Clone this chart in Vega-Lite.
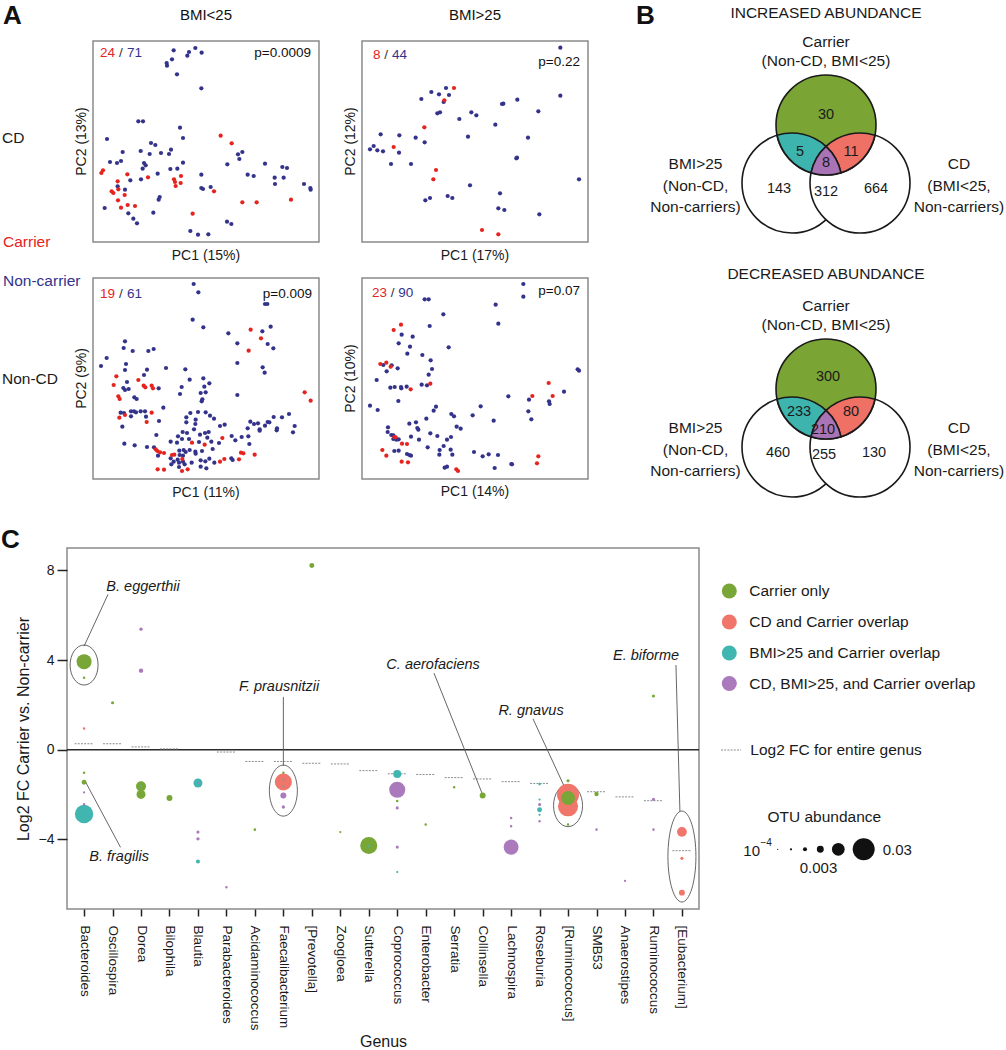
{
"$schema": "https://vega.github.io/schema/vega-lite/v6.json",
"padding": {"left": 0, "top": 3, "right": 0, "bottom": 0},
"bounds": "flush",
"spacing": 69,
"resolve": {"scale": {"color": "independent", "size": "independent", "shape": "independent"}},
"config": {
  "font": "Liberation Sans",
  "view": {"stroke": "#8a8a8a", "strokeWidth": 1.5},
  "axis": {"grid": false, "domain": false, "titleFontWeight": "normal", "labelColor": "#1a1a1a", "titleColor": "#1a1a1a"},
  "text": {"color": "#1a1a1a"}
},
"datasets": {
"tl": [
{"pc1":51.7,"pc2":-15.0,"group":"Non-carrier"},{"pc1":56.3,"pc2":-15.5,"group":"Non-carrier"},{"pc1":58.2,"pc2":-14.3,"group":"Non-carrier"},{"pc1":60.1,"pc2":-15.7,"group":"Non-carrier"},{"pc1":55.8,"pc2":-16.6,"group":"Non-carrier"},{"pc1":51.2,"pc2":-17.7,"group":"Non-carrier"},{"pc1":49.6,"pc2":-18.8,"group":"Non-carrier"},{"pc1":49.7,"pc2":-19.6,"group":"Non-carrier"},{"pc1":52.7,"pc2":-22.2,"group":"Non-carrier"},{"pc1":60.0,"pc2":-26.4,"group":"Non-carrier"},{"pc1":41.1,"pc2":-36.3,"group":"Non-carrier"},{"pc1":42.5,"pc2":-36.3,"group":"Non-carrier"},{"pc1":53.6,"pc2":-38.2,"group":"Non-carrier"},{"pc1":54.5,"pc2":-41.3,"group":"Non-carrier"},{"pc1":31.7,"pc2":-41.6,"group":"Non-carrier"},{"pc1":44.9,"pc2":-42.8,"group":"Non-carrier"},{"pc1":46.2,"pc2":-43.4,"group":"Non-carrier"},{"pc1":36.4,"pc2":-45.5,"group":"Non-carrier"},{"pc1":41.8,"pc2":-45.2,"group":"Non-carrier"},{"pc1":44.5,"pc2":-46.1,"group":"Non-carrier"},{"pc1":47.9,"pc2":-45.8,"group":"Non-carrier"},{"pc1":50.9,"pc2":-44.8,"group":"Non-carrier"},{"pc1":50.3,"pc2":-46.1,"group":"Non-carrier"},{"pc1":72.3,"pc2":-45.5,"group":"Non-carrier"},{"pc1":71.0,"pc2":-46.2,"group":"Non-carrier"},{"pc1":71.4,"pc2":-47.6,"group":"Non-carrier"},{"pc1":32.6,"pc2":-48.5,"group":"Non-carrier"},{"pc1":34.7,"pc2":-48.8,"group":"Non-carrier"},{"pc1":35.9,"pc2":-48.2,"group":"Non-carrier"},{"pc1":42.8,"pc2":-48.8,"group":"Non-carrier"},{"pc1":43.3,"pc2":-49.5,"group":"Non-carrier"},{"pc1":54.5,"pc2":-48.7,"group":"Non-carrier"},{"pc1":67.8,"pc2":-49.2,"group":"Non-carrier"},{"pc1":79.1,"pc2":-49.0,"group":"Non-carrier"},{"pc1":84.3,"pc2":-50.0,"group":"Non-carrier"},{"pc1":85.7,"pc2":-50.3,"group":"Non-carrier"},{"pc1":42.4,"pc2":-50.5,"group":"Non-carrier"},{"pc1":46.9,"pc2":-52.0,"group":"Non-carrier"},{"pc1":50.7,"pc2":-50.6,"group":"Non-carrier"},{"pc1":52.8,"pc2":-50.5,"group":"Non-carrier"},{"pc1":73.9,"pc2":-52.3,"group":"Non-carrier"},{"pc1":75.7,"pc2":-52.7,"group":"Non-carrier"},{"pc1":38.7,"pc2":-54.0,"group":"Non-carrier"},{"pc1":41.9,"pc2":-53.7,"group":"Non-carrier"},{"pc1":60.0,"pc2":-52.3,"group":"Non-carrier"},{"pc1":34.9,"pc2":-55.8,"group":"Non-carrier"},{"pc1":82.0,"pc2":-53.2,"group":"Non-carrier"},{"pc1":84.7,"pc2":-53.2,"group":"Non-carrier"},{"pc1":82.1,"pc2":-55.1,"group":"Non-carrier"},{"pc1":60.0,"pc2":-56.3,"group":"Non-carrier"},{"pc1":60.5,"pc2":-56.6,"group":"Non-carrier"},{"pc1":62.8,"pc2":-56.0,"group":"Non-carrier"},{"pc1":90.8,"pc2":-55.1,"group":"Non-carrier"},{"pc1":92.7,"pc2":-56.3,"group":"Non-carrier"},{"pc1":92.8,"pc2":-56.8,"group":"Non-carrier"},{"pc1":37.1,"pc2":-56.8,"group":"Non-carrier"},{"pc1":47.5,"pc2":-59.0,"group":"Non-carrier"},{"pc1":47.2,"pc2":-59.8,"group":"Non-carrier"},{"pc1":31.0,"pc2":-62.3,"group":"Non-carrier"},{"pc1":45.6,"pc2":-63.7,"group":"Non-carrier"},{"pc1":38.1,"pc2":-63.9,"group":"Non-carrier"},{"pc1":39.6,"pc2":-65.5,"group":"Non-carrier"},{"pc1":40.7,"pc2":-66.9,"group":"Non-carrier"},{"pc1":67.7,"pc2":-66.4,"group":"Non-carrier"},{"pc1":69.0,"pc2":-67.1,"group":"Non-carrier"},{"pc1":56.7,"pc2":-69.2,"group":"Non-carrier"},{"pc1":59.0,"pc2":-70.3,"group":"Non-carrier"},{"pc1":62.1,"pc2":-70.2,"group":"Non-carrier"},
{"pc1":65.8,"pc2":-40.6,"group":"Carrier"},{"pc1":69.1,"pc2":-42.9,"group":"Carrier"},{"pc1":30.5,"pc2":-51.0,"group":"Carrier"},{"pc1":30.0,"pc2":-51.8,"group":"Carrier"},{"pc1":37.8,"pc2":-52.2,"group":"Carrier"},{"pc1":44.0,"pc2":-53.1,"group":"Carrier"},{"pc1":53.9,"pc2":-52.7,"group":"Carrier"},{"pc1":51.8,"pc2":-53.7,"group":"Carrier"},{"pc1":52.1,"pc2":-54.5,"group":"Carrier"},{"pc1":53.8,"pc2":-54.8,"group":"Carrier"},{"pc1":52.3,"pc2":-55.7,"group":"Carrier"},{"pc1":34.9,"pc2":-54.3,"group":"Carrier"},{"pc1":63.8,"pc2":-57.3,"group":"Carrier"},{"pc1":33.1,"pc2":-57.3,"group":"Carrier"},{"pc1":33.6,"pc2":-57.8,"group":"Carrier"},{"pc1":35.1,"pc2":-56.7,"group":"Carrier"},{"pc1":37.0,"pc2":-58.4,"group":"Carrier"},{"pc1":35.0,"pc2":-60.0,"group":"Carrier"},{"pc1":72.3,"pc2":-60.6,"group":"Carrier"},{"pc1":76.6,"pc2":-60.6,"group":"Carrier"},{"pc1":86.9,"pc2":-59.8,"group":"Carrier"},{"pc1":37.9,"pc2":-61.4,"group":"Carrier"},{"pc1":40.1,"pc2":-61.7,"group":"Carrier"},{"pc1":35.9,"pc2":-62.2,"group":"Carrier"},{"pc1":57.4,"pc2":-64.0,"group":"Carrier"}
],
"tr": [
{"pc1":68.8,"pc2":-14.2,"group":"Non-carrier"},{"pc1":68.8,"pc2":-28.6,"group":"Non-carrier"},{"pc1":34.5,"pc2":-26.3,"group":"Non-carrier"},{"pc1":30.1,"pc2":-27.5,"group":"Non-carrier"},{"pc1":32.4,"pc2":-28.2,"group":"Non-carrier"},{"pc1":35.4,"pc2":-28.4,"group":"Non-carrier"},{"pc1":33.8,"pc2":-30.5,"group":"Non-carrier"},{"pc1":27.1,"pc2":-29.6,"group":"Non-carrier"},{"pc1":31.9,"pc2":-33.9,"group":"Non-carrier"},{"pc1":32.7,"pc2":-33.6,"group":"Non-carrier"},{"pc1":38.5,"pc2":-35.6,"group":"Non-carrier"},{"pc1":42.1,"pc2":-33.6,"group":"Non-carrier"},{"pc1":43.6,"pc2":-34.5,"group":"Non-carrier"},{"pc1":51.3,"pc2":-31.1,"group":"Non-carrier"},{"pc1":51.7,"pc2":-31.0,"group":"Non-carrier"},{"pc1":55.9,"pc2":-29.8,"group":"Non-carrier"},{"pc1":62.2,"pc2":-33.3,"group":"Non-carrier"},{"pc1":49.3,"pc2":-37.3,"group":"Non-carrier"},{"pc1":14.9,"pc2":-40.2,"group":"Non-carrier"},{"pc1":20.5,"pc2":-40.5,"group":"Non-carrier"},{"pc1":25.4,"pc2":-41.2,"group":"Non-carrier"},{"pc1":41.1,"pc2":-40.9,"group":"Non-carrier"},{"pc1":59.1,"pc2":-41.2,"group":"Non-carrier"},{"pc1":28.1,"pc2":-42.6,"group":"Non-carrier"},{"pc1":12.8,"pc2":-43.7,"group":"Non-carrier"},{"pc1":11.7,"pc2":-44.7,"group":"Non-carrier"},{"pc1":13.9,"pc2":-45.0,"group":"Non-carrier"},{"pc1":15.6,"pc2":-45.3,"group":"Non-carrier"},{"pc1":20.4,"pc2":-45.7,"group":"Non-carrier"},{"pc1":55.8,"pc2":-47.2,"group":"Non-carrier"},{"pc1":55.6,"pc2":-47.4,"group":"Non-carrier"},{"pc1":18.0,"pc2":-49.1,"group":"Non-carrier"},{"pc1":24.0,"pc2":-49.1,"group":"Non-carrier"},{"pc1":74.4,"pc2":-53.7,"group":"Non-carrier"},{"pc1":41.7,"pc2":-55.5,"group":"Non-carrier"},{"pc1":50.7,"pc2":-57.9,"group":"Non-carrier"},{"pc1":35.0,"pc2":-58.7,"group":"Non-carrier"},{"pc1":36.4,"pc2":-59.3,"group":"Non-carrier"},{"pc1":28.3,"pc2":-60.0,"group":"Non-carrier"},{"pc1":29.7,"pc2":-59.3,"group":"Non-carrier"},{"pc1":50.2,"pc2":-62.4,"group":"Non-carrier"},{"pc1":52.0,"pc2":-62.9,"group":"Non-carrier"},{"pc1":62.5,"pc2":-64.2,"group":"Non-carrier"},
{"pc1":36.9,"pc2":-26.3,"group":"Carrier"},{"pc1":34.0,"pc2":-30.0,"group":"Carrier"},{"pc1":28.0,"pc2":-38.1,"group":"Carrier"},{"pc1":18.8,"pc2":-44.0,"group":"Carrier"},{"pc1":31.5,"pc2":-50.9,"group":"Carrier"},{"pc1":30.7,"pc2":-53.7,"group":"Carrier"},{"pc1":45.3,"pc2":-68.9,"group":"Carrier"},{"pc1":50.2,"pc2":-70.2,"group":"Carrier"}
],
"bl": [
{"pc1":57.7,"pc2":1.5,"group":"Non-carrier"},{"pc1":59.1,"pc2":-1.0,"group":"Non-carrier"},{"pc1":79.1,"pc2":-4.5,"group":"Non-carrier"},{"pc1":79.8,"pc2":-4.5,"group":"Non-carrier"},{"pc1":57.4,"pc2":-9.2,"group":"Non-carrier"},{"pc1":60.6,"pc2":-11.5,"group":"Non-carrier"},{"pc1":78.3,"pc2":-12.7,"group":"Non-carrier"},{"pc1":80.8,"pc2":-11.3,"group":"Non-carrier"},{"pc1":68.1,"pc2":-13.3,"group":"Non-carrier"},{"pc1":70.8,"pc2":-16.3,"group":"Non-carrier"},{"pc1":79.9,"pc2":-16.5,"group":"Non-carrier"},{"pc1":81.6,"pc2":-17.8,"group":"Non-carrier"},{"pc1":37.1,"pc2":-15.7,"group":"Non-carrier"},{"pc1":36.7,"pc2":-17.7,"group":"Non-carrier"},{"pc1":39.4,"pc2":-18.6,"group":"Non-carrier"},{"pc1":44.1,"pc2":-18.6,"group":"Non-carrier"},{"pc1":45.7,"pc2":-18.0,"group":"Non-carrier"},{"pc1":31.6,"pc2":-20.7,"group":"Non-carrier"},{"pc1":29.9,"pc2":-23.1,"group":"Non-carrier"},{"pc1":37.4,"pc2":-22.5,"group":"Non-carrier"},{"pc1":37.1,"pc2":-24.3,"group":"Non-carrier"},{"pc1":43.7,"pc2":-24.2,"group":"Non-carrier"},{"pc1":49.4,"pc2":-23.7,"group":"Non-carrier"},{"pc1":55.2,"pc2":-24.1,"group":"Non-carrier"},{"pc1":70.8,"pc2":-22.2,"group":"Non-carrier"},{"pc1":78.4,"pc2":-23.5,"group":"Non-carrier"},{"pc1":79.0,"pc2":-25.1,"group":"Non-carrier"},{"pc1":37.7,"pc2":-27.9,"group":"Non-carrier"},{"pc1":42.8,"pc2":-25.8,"group":"Non-carrier"},{"pc1":36.6,"pc2":-29.7,"group":"Non-carrier"},{"pc1":37.1,"pc2":-30.3,"group":"Non-carrier"},{"pc1":38.2,"pc2":-30.0,"group":"Non-carrier"},{"pc1":47.2,"pc2":-29.8,"group":"Non-carrier"},{"pc1":56.5,"pc2":-27.2,"group":"Non-carrier"},{"pc1":60.6,"pc2":-26.8,"group":"Non-carrier"},{"pc1":62.4,"pc2":-28.3,"group":"Non-carrier"},{"pc1":54.1,"pc2":-29.4,"group":"Non-carrier"},{"pc1":60.9,"pc2":-29.3,"group":"Non-carrier"},{"pc1":39.9,"pc2":-32.5,"group":"Non-carrier"},{"pc1":40.6,"pc2":-33.0,"group":"Non-carrier"},{"pc1":53.6,"pc2":-31.5,"group":"Non-carrier"},{"pc1":59.8,"pc2":-31.2,"group":"Non-carrier"},{"pc1":61.3,"pc2":-31.0,"group":"Non-carrier"},{"pc1":70.8,"pc2":-31.8,"group":"Non-carrier"},{"pc1":60.1,"pc2":-33.7,"group":"Non-carrier"},{"pc1":60.3,"pc2":-33.1,"group":"Non-carrier"},{"pc1":48.6,"pc2":-35.6,"group":"Non-carrier"},{"pc1":35.8,"pc2":-37.1,"group":"Non-carrier"},{"pc1":36.8,"pc2":-37.2,"group":"Non-carrier"},{"pc1":38.9,"pc2":-36.7,"group":"Non-carrier"},{"pc1":39.8,"pc2":-36.7,"group":"Non-carrier"},{"pc1":40.4,"pc2":-37.0,"group":"Non-carrier"},{"pc1":41.8,"pc2":-36.7,"group":"Non-carrier"},{"pc1":43.1,"pc2":-36.7,"group":"Non-carrier"},{"pc1":38.9,"pc2":-38.2,"group":"Non-carrier"},{"pc1":43.4,"pc2":-38.3,"group":"Non-carrier"},{"pc1":59.0,"pc2":-36.9,"group":"Non-carrier"},{"pc1":61.3,"pc2":-37.0,"group":"Non-carrier"},{"pc1":56.7,"pc2":-37.2,"group":"Non-carrier"},{"pc1":62.6,"pc2":-38.0,"group":"Non-carrier"},{"pc1":63.8,"pc2":-38.9,"group":"Non-carrier"},{"pc1":55.5,"pc2":-38.5,"group":"Non-carrier"},{"pc1":58.3,"pc2":-39.2,"group":"Non-carrier"},{"pc1":58.2,"pc2":-40.5,"group":"Non-carrier"},{"pc1":55.5,"pc2":-40.0,"group":"Non-carrier"},{"pc1":47.3,"pc2":-39.6,"group":"Non-carrier"},{"pc1":36.3,"pc2":-41.3,"group":"Non-carrier"},{"pc1":74.7,"pc2":-39.8,"group":"Non-carrier"},{"pc1":75.8,"pc2":-40.5,"group":"Non-carrier"},{"pc1":77.0,"pc2":-40.3,"group":"Non-carrier"},{"pc1":79.1,"pc2":-41.0,"group":"Non-carrier"},{"pc1":79.9,"pc2":-39.9,"group":"Non-carrier"},{"pc1":80.4,"pc2":-40.0,"group":"Non-carrier"},{"pc1":81.7,"pc2":-38.4,"group":"Non-carrier"},{"pc1":84.2,"pc2":-38.5,"group":"Non-carrier"},{"pc1":86.3,"pc2":-37.5,"group":"Non-carrier"},{"pc1":88.0,"pc2":-41.1,"group":"Non-carrier"},{"pc1":87.5,"pc2":-43.0,"group":"Non-carrier"},{"pc1":82.7,"pc2":-41.8,"group":"Non-carrier"},{"pc1":82.6,"pc2":-42.4,"group":"Non-carrier"},{"pc1":77.5,"pc2":-42.1,"group":"Non-carrier"},{"pc1":77.5,"pc2":-42.5,"group":"Non-carrier"},{"pc1":73.9,"pc2":-41.8,"group":"Non-carrier"},{"pc1":65.6,"pc2":-41.1,"group":"Non-carrier"},{"pc1":67.0,"pc2":-40.7,"group":"Non-carrier"},{"pc1":46.5,"pc2":-43.8,"group":"Non-carrier"},{"pc1":54.4,"pc2":-42.9,"group":"Non-carrier"},{"pc1":55.7,"pc2":-43.2,"group":"Non-carrier"},{"pc1":53.0,"pc2":-44.2,"group":"Non-carrier"},{"pc1":54.2,"pc2":-45.0,"group":"Non-carrier"},{"pc1":56.3,"pc2":-45.0,"group":"Non-carrier"},{"pc1":59.6,"pc2":-43.7,"group":"Non-carrier"},{"pc1":61.1,"pc2":-43.2,"group":"Non-carrier"},{"pc1":62.2,"pc2":-42.9,"group":"Non-carrier"},{"pc1":61.8,"pc2":-44.6,"group":"Non-carrier"},{"pc1":57.8,"pc2":-42.1,"group":"Non-carrier"},{"pc1":69.1,"pc2":-44.1,"group":"Non-carrier"},{"pc1":70.2,"pc2":-45.4,"group":"Non-carrier"},{"pc1":52.7,"pc2":-46.1,"group":"Non-carrier"},{"pc1":50.8,"pc2":-45.8,"group":"Non-carrier"},{"pc1":59.3,"pc2":-45.9,"group":"Non-carrier"},{"pc1":63.0,"pc2":-45.8,"group":"Non-carrier"},{"pc1":65.3,"pc2":-46.2,"group":"Non-carrier"},{"pc1":74.4,"pc2":-46.5,"group":"Non-carrier"},{"pc1":74.1,"pc2":-44.2,"group":"Non-carrier"},{"pc1":72.1,"pc2":-44.4,"group":"Non-carrier"},{"pc1":36.9,"pc2":-46.4,"group":"Non-carrier"},{"pc1":40.0,"pc2":-46.9,"group":"Non-carrier"},{"pc1":43.7,"pc2":-47.4,"group":"Non-carrier"},{"pc1":45.8,"pc2":-47.5,"group":"Non-carrier"},{"pc1":47.0,"pc2":-50.0,"group":"Non-carrier"},{"pc1":53.5,"pc2":-49.8,"group":"Non-carrier"},{"pc1":54.5,"pc2":-50.0,"group":"Non-carrier"},{"pc1":53.4,"pc2":-48.5,"group":"Non-carrier"},{"pc1":54.7,"pc2":-48.3,"group":"Non-carrier"},{"pc1":55.3,"pc2":-48.9,"group":"Non-carrier"},{"pc1":56.5,"pc2":-48.3,"group":"Non-carrier"},{"pc1":58.2,"pc2":-48.8,"group":"Non-carrier"},{"pc1":58.3,"pc2":-49.4,"group":"Non-carrier"},{"pc1":60.2,"pc2":-48.6,"group":"Non-carrier"},{"pc1":63.4,"pc2":-48.0,"group":"Non-carrier"},{"pc1":50.8,"pc2":-50.8,"group":"Non-carrier"},{"pc1":51.7,"pc2":-51.8,"group":"Non-carrier"},{"pc1":52.9,"pc2":-51.2,"group":"Non-carrier"},{"pc1":53.3,"pc2":-52.1,"group":"Non-carrier"},{"pc1":54.5,"pc2":-51.8,"group":"Non-carrier"},{"pc1":55.0,"pc2":-52.6,"group":"Non-carrier"},{"pc1":57.1,"pc2":-52.1,"group":"Non-carrier"},{"pc1":59.8,"pc2":-51.4,"group":"Non-carrier"},{"pc1":61.2,"pc2":-51.7,"group":"Non-carrier"},{"pc1":62.4,"pc2":-50.9,"group":"Non-carrier"},{"pc1":63.9,"pc2":-52.1,"group":"Non-carrier"},{"pc1":69.0,"pc2":-50.8,"group":"Non-carrier"},{"pc1":69.4,"pc2":-51.3,"group":"Non-carrier"},{"pc1":51.0,"pc2":-52.6,"group":"Non-carrier"},{"pc1":53.3,"pc2":-53.4,"group":"Non-carrier"},{"pc1":59.8,"pc2":-53.3,"group":"Non-carrier"},{"pc1":61.5,"pc2":-53.8,"group":"Non-carrier"},
{"pc1":74.8,"pc2":-12.2,"group":"Carrier"},{"pc1":77.9,"pc2":-14.8,"group":"Carrier"},{"pc1":74.2,"pc2":-18.5,"group":"Carrier"},{"pc1":34.5,"pc2":-26.2,"group":"Carrier"},{"pc1":41.1,"pc2":-27.3,"group":"Carrier"},{"pc1":33.7,"pc2":-28.8,"group":"Carrier"},{"pc1":42.7,"pc2":-29.0,"group":"Carrier"},{"pc1":43.2,"pc2":-29.5,"group":"Carrier"},{"pc1":45.1,"pc2":-29.0,"group":"Carrier"},{"pc1":45.5,"pc2":-29.8,"group":"Carrier"},{"pc1":35.1,"pc2":-32.2,"group":"Carrier"},{"pc1":35.5,"pc2":-33.0,"group":"Carrier"},{"pc1":91.0,"pc2":-31.0,"group":"Carrier"},{"pc1":92.8,"pc2":-33.5,"group":"Carrier"},{"pc1":45.1,"pc2":-37.1,"group":"Carrier"},{"pc1":35.4,"pc2":-38.6,"group":"Carrier"},{"pc1":37.1,"pc2":-37.8,"group":"Carrier"},{"pc1":43.6,"pc2":-39.9,"group":"Carrier"},{"pc1":66.3,"pc2":-44.7,"group":"Carrier"},{"pc1":57.2,"pc2":-46.1,"group":"Carrier"},{"pc1":61.0,"pc2":-46.7,"group":"Carrier"},{"pc1":46.3,"pc2":-48.1,"group":"Carrier"},{"pc1":46.8,"pc2":-48.6,"group":"Carrier"},{"pc1":47.6,"pc2":-49.0,"group":"Carrier"},{"pc1":48.8,"pc2":-49.2,"group":"Carrier"},{"pc1":51.2,"pc2":-49.8,"group":"Carrier"},{"pc1":51.9,"pc2":-49.7,"group":"Carrier"},{"pc1":71.9,"pc2":-49.1,"group":"Carrier"},{"pc1":72.6,"pc2":-49.3,"group":"Carrier"},{"pc1":76.0,"pc2":-49.7,"group":"Carrier"},{"pc1":54.3,"pc2":-51.0,"group":"Carrier"},{"pc1":65.6,"pc2":-51.8,"group":"Carrier"},{"pc1":66.9,"pc2":-51.0,"group":"Carrier"},{"pc1":71.3,"pc2":-51.1,"group":"Carrier"},{"pc1":46.9,"pc2":-54.1,"group":"Carrier"},{"pc1":48.8,"pc2":-54.2,"group":"Carrier"},{"pc1":54.2,"pc2":-54.6,"group":"Carrier"},{"pc1":55.9,"pc2":-54.1,"group":"Carrier"}
],
"br": [
{"pc1":57.7,"pc2":1.8,"group":"Non-carrier"},{"pc1":57.7,"pc2":-2.0,"group":"Non-carrier"},{"pc1":28.1,"pc2":-2.8,"group":"Non-carrier"},{"pc1":29.3,"pc2":-2.8,"group":"Non-carrier"},{"pc1":49.4,"pc2":-4.4,"group":"Non-carrier"},{"pc1":50.2,"pc2":-10.1,"group":"Non-carrier"},{"pc1":33.7,"pc2":-7.3,"group":"Non-carrier"},{"pc1":29.6,"pc2":-10.8,"group":"Non-carrier"},{"pc1":21.2,"pc2":-13.4,"group":"Non-carrier"},{"pc1":24.5,"pc2":-14.0,"group":"Non-carrier"},{"pc1":20.3,"pc2":-16.0,"group":"Non-carrier"},{"pc1":23.7,"pc2":-17.0,"group":"Non-carrier"},{"pc1":22.9,"pc2":-19.1,"group":"Non-carrier"},{"pc1":35.3,"pc2":-17.2,"group":"Non-carrier"},{"pc1":27.4,"pc2":-19.5,"group":"Non-carrier"},{"pc1":29.9,"pc2":-21.1,"group":"Non-carrier"},{"pc1":30.3,"pc2":-23.7,"group":"Non-carrier"},{"pc1":29.3,"pc2":-25.4,"group":"Non-carrier"},{"pc1":15.7,"pc2":-22.5,"group":"Non-carrier"},{"pc1":18.2,"pc2":-22.6,"group":"Non-carrier"},{"pc1":20.0,"pc2":-23.5,"group":"Non-carrier"},{"pc1":16.7,"pc2":-24.4,"group":"Non-carrier"},{"pc1":13.7,"pc2":-27.0,"group":"Non-carrier"},{"pc1":74.0,"pc2":-23.8,"group":"Non-carrier"},{"pc1":74.4,"pc2":-24.2,"group":"Non-carrier"},{"pc1":17.8,"pc2":-29.3,"group":"Non-carrier"},{"pc1":19.1,"pc2":-29.1,"group":"Non-carrier"},{"pc1":21.0,"pc2":-29.1,"group":"Non-carrier"},{"pc1":21.1,"pc2":-29.5,"group":"Non-carrier"},{"pc1":22.7,"pc2":-29.0,"group":"Non-carrier"},{"pc1":27.2,"pc2":-28.4,"group":"Non-carrier"},{"pc1":28.8,"pc2":-28.6,"group":"Non-carrier"},{"pc1":59.4,"pc2":-32.9,"group":"Non-carrier"},{"pc1":69.9,"pc2":-30.5,"group":"Non-carrier"},{"pc1":65.4,"pc2":-33.4,"group":"Non-carrier"},{"pc1":65.6,"pc2":-34.2,"group":"Non-carrier"},{"pc1":53.2,"pc2":-31.9,"group":"Non-carrier"},{"pc1":11.7,"pc2":-34.7,"group":"Non-carrier"},{"pc1":14.0,"pc2":-36.0,"group":"Non-carrier"},{"pc1":20.2,"pc2":-33.3,"group":"Non-carrier"},{"pc1":31.5,"pc2":-35.0,"group":"Non-carrier"},{"pc1":30.8,"pc2":-36.2,"group":"Non-carrier"},{"pc1":44.9,"pc2":-34.9,"group":"Non-carrier"},{"pc1":42.5,"pc2":-37.6,"group":"Non-carrier"},{"pc1":48.8,"pc2":-39.2,"group":"Non-carrier"},{"pc1":59.2,"pc2":-36.4,"group":"Non-carrier"},{"pc1":60.1,"pc2":-38.8,"group":"Non-carrier"},{"pc1":36.1,"pc2":-37.2,"group":"Non-carrier"},{"pc1":36.9,"pc2":-37.9,"group":"Non-carrier"},{"pc1":28.6,"pc2":-38.6,"group":"Non-carrier"},{"pc1":23.5,"pc2":-40.1,"group":"Non-carrier"},{"pc1":25.5,"pc2":-39.7,"group":"Non-carrier"},{"pc1":25.9,"pc2":-41.4,"group":"Non-carrier"},{"pc1":26.2,"pc2":-41.9,"group":"Non-carrier"},{"pc1":37.7,"pc2":-41.0,"group":"Non-carrier"},{"pc1":38.9,"pc2":-41.6,"group":"Non-carrier"},{"pc1":17.1,"pc2":-41.2,"group":"Non-carrier"},{"pc1":17.0,"pc2":-42.6,"group":"Non-carrier"},{"pc1":18.1,"pc2":-43.5,"group":"Non-carrier"},{"pc1":18.7,"pc2":-43.6,"group":"Non-carrier"},{"pc1":18.7,"pc2":-44.7,"group":"Non-carrier"},{"pc1":19.6,"pc2":-44.9,"group":"Non-carrier"},{"pc1":20.3,"pc2":-44.8,"group":"Non-carrier"},{"pc1":24.0,"pc2":-44.0,"group":"Non-carrier"},{"pc1":29.8,"pc2":-43.0,"group":"Non-carrier"},{"pc1":31.9,"pc2":-43.8,"group":"Non-carrier"},{"pc1":36.0,"pc2":-44.1,"group":"Non-carrier"},{"pc1":34.8,"pc2":-44.9,"group":"Non-carrier"},{"pc1":26.4,"pc2":-44.9,"group":"Non-carrier"},{"pc1":29.0,"pc2":-47.2,"group":"Non-carrier"},{"pc1":33.8,"pc2":-46.8,"group":"Non-carrier"},{"pc1":19.0,"pc2":-48.3,"group":"Non-carrier"},{"pc1":20.3,"pc2":-48.2,"group":"Non-carrier"},{"pc1":22.8,"pc2":-49.2,"group":"Non-carrier"},{"pc1":23.5,"pc2":-49.5,"group":"Non-carrier"},{"pc1":24.0,"pc2":-49.7,"group":"Non-carrier"},{"pc1":32.6,"pc2":-48.0,"group":"Non-carrier"},{"pc1":35.9,"pc2":-47.9,"group":"Non-carrier"},{"pc1":32.5,"pc2":-49.4,"group":"Non-carrier"},{"pc1":36.4,"pc2":-49.4,"group":"Non-carrier"},{"pc1":42.9,"pc2":-48.6,"group":"Non-carrier"},{"pc1":45.5,"pc2":-49.9,"group":"Non-carrier"},{"pc1":47.3,"pc2":-49.3,"group":"Non-carrier"},{"pc1":50.1,"pc2":-49.5,"group":"Non-carrier"},{"pc1":54.1,"pc2":-52.2,"group":"Non-carrier"},{"pc1":54.3,"pc2":-52.3,"group":"Non-carrier"},{"pc1":34.1,"pc2":-53.3,"group":"Non-carrier"},{"pc1":34.8,"pc2":-53.0,"group":"Non-carrier"},{"pc1":49.1,"pc2":-53.4,"group":"Non-carrier"},
{"pc1":21.0,"pc2":-10.4,"group":"Carrier"},{"pc1":18.8,"pc2":-12.0,"group":"Carrier"},{"pc1":14.8,"pc2":-22.2,"group":"Carrier"},{"pc1":16.6,"pc2":-21.8,"group":"Carrier"},{"pc1":17.9,"pc2":-23.0,"group":"Carrier"},{"pc1":23.9,"pc2":-29.8,"group":"Carrier"},{"pc1":29.8,"pc2":-28.1,"group":"Carrier"},{"pc1":65.3,"pc2":-27.9,"group":"Carrier"},{"pc1":60.4,"pc2":-31.8,"group":"Carrier"},{"pc1":66.5,"pc2":-31.8,"group":"Carrier"},{"pc1":19.0,"pc2":-44.1,"group":"Carrier"},{"pc1":19.4,"pc2":-44.2,"group":"Carrier"},{"pc1":21.3,"pc2":-46.1,"group":"Carrier"},{"pc1":22.8,"pc2":-46.2,"group":"Carrier"},{"pc1":15.4,"pc2":-48.0,"group":"Carrier"},{"pc1":16.6,"pc2":-49.7,"group":"Carrier"},{"pc1":62.2,"pc2":-49.9,"group":"Carrier"},{"pc1":61.8,"pc2":-52.0,"group":"Carrier"},{"pc1":21.2,"pc2":-51.5,"group":"Carrier"},{"pc1":23.1,"pc2":-51.7,"group":"Carrier"},{"pc1":37.6,"pc2":-53.8,"group":"Carrier"},{"pc1":38.1,"pc2":-54.3,"group":"Carrier"}
],
"vennSets": [
{"venn":"Increased abundance","set":"Carrier","vx":19.5,"vy":8.4},
{"venn":"Increased abundance","set":"BMI>25","vx":16.1,"vy":14.2},
{"venn":"Increased abundance","set":"CD","vx":22.9,"vy":14.2},
{"venn":"Decreased abundance","set":"Carrier","vx":19.5,"vy":34.8},
{"venn":"Decreased abundance","set":"BMI>25","vx":16.1,"vy":40.6},
{"venn":"Decreased abundance","set":"CD","vx":22.9,"vy":40.6}
],
"vennCounts": [
{"venn":"Increased abundance","region":"Carrier only","count":"30","vx":19.5,"vy":7.4},
{"venn":"Increased abundance","region":"Carrier & BMI>25","count":"5","vx":16.9,"vy":11.1},
{"venn":"Increased abundance","region":"Carrier & CD","count":"11","vx":22.0,"vy":11.1},
{"venn":"Increased abundance","region":"All three","count":"8","vx":19.5,"vy":12.2},
{"venn":"Increased abundance","region":"BMI>25 only","count":"143","vx":14.8,"vy":14.8},
{"venn":"Increased abundance","region":"BMI>25 & CD","count":"312","vx":19.5,"vy":15.1},
{"venn":"Increased abundance","region":"CD only","count":"664","vx":24.5,"vy":14.8},
{"venn":"Decreased abundance","region":"Carrier only","count":"300","vx":19.7,"vy":33.6},
{"venn":"Decreased abundance","region":"Carrier & BMI>25","count":"233","vx":16.8,"vy":37.1},
{"venn":"Decreased abundance","region":"Carrier & CD","count":"80","vx":22.0,"vy":37.1},
{"venn":"Decreased abundance","region":"All three","count":"210","vx":19.2,"vy":38.9},
{"venn":"Decreased abundance","region":"BMI>25 only","count":"460","vx":14.7,"vy":41.2},
{"venn":"Decreased abundance","region":"BMI>25 & CD","count":"255","vx":19.3,"vy":41.4},
{"venn":"Decreased abundance","region":"CD only","count":"130","vx":24.3,"vy":41.2}
],
"vennLabels": [
{"text":"INCREASED ABUNDANCE","vx":19.5,"vy":-2.85},
{"text":"Carrier","vx":19.5,"vy":0.1},
{"text":"(Non-CD, BMI<25)","vx":19.5,"vy":2.0},
{"text":"BMI>25","vx":6.45,"vy":12.3},
{"text":"(Non-CD,","vx":6.45,"vy":14.45},
{"text":"Non-carriers)","vx":6.45,"vy":16.55},
{"text":"CD","vx":32.8,"vy":12.3},
{"text":"(BMI<25,","vx":32.8,"vy":14.45},
{"text":"Non-carriers)","vx":32.8,"vy":16.55},
{"text":"DECREASED ABUNDANCE","vx":19.5,"vy":23.25},
{"text":"Carrier","vx":19.5,"vy":26.5},
{"text":"(Non-CD, BMI<25)","vx":19.5,"vy":28.4},
{"text":"BMI>25","vx":6.45,"vy":38.7},
{"text":"(Non-CD,","vx":6.45,"vy":40.85},
{"text":"Non-carriers)","vx":6.45,"vy":42.95},
{"text":"CD","vx":32.8,"vy":38.7},
{"text":"(BMI<25,","vx":32.8,"vy":40.85},
{"text":"Non-carriers)","vx":32.8,"vy":42.95}
],
"otus": [
{"genus":"Bacteroides","overlap":"Carrier only","log2fc":3.93,"abundance":0.014},
{"genus":"Bacteroides","overlap":"Carrier only","log2fc":3.21,"abundance":0.0004},
{"genus":"Bacteroides","overlap":"CD and Carrier overlap","log2fc":0.95,"abundance":0.0004},
{"genus":"Bacteroides","overlap":"Carrier only","log2fc":-1.02,"abundance":0.0004},
{"genus":"Bacteroides","overlap":"Carrier only","log2fc":-1.45,"abundance":0.0015},
{"genus":"Bacteroides","overlap":"CD, BMI>25, and Carrier overlap","log2fc":-1.9,"abundance":0.0003},
{"genus":"Bacteroides","overlap":"CD, BMI>25, and Carrier overlap","log2fc":-2.43,"abundance":0.0004},
{"genus":"Bacteroides","overlap":"BMI>25 and Carrier overlap","log2fc":-2.86,"abundance":0.021},
{"genus":"Oscillospira","overlap":"Carrier only","log2fc":2.1,"abundance":0.0006},
{"genus":"Dorea","overlap":"CD, BMI>25, and Carrier overlap","log2fc":5.38,"abundance":0.0007},
{"genus":"Dorea","overlap":"CD, BMI>25, and Carrier overlap","log2fc":3.53,"abundance":0.0012},
{"genus":"Dorea","overlap":"Carrier only","log2fc":-1.63,"abundance":0.0062},
{"genus":"Dorea","overlap":"Carrier only","log2fc":-1.99,"abundance":0.005},
{"genus":"Dorea","overlap":"BMI>25 and Carrier overlap","log2fc":-1.63,"abundance":0.0002},
{"genus":"Bilophila","overlap":"Carrier only","log2fc":-2.15,"abundance":0.0022},
{"genus":"Blautia","overlap":"BMI>25 and Carrier overlap","log2fc":-1.48,"abundance":0.005},
{"genus":"Blautia","overlap":"CD, BMI>25, and Carrier overlap","log2fc":-1.48,"abundance":0.0002},
{"genus":"Blautia","overlap":"CD, BMI>25, and Carrier overlap","log2fc":-3.67,"abundance":0.0006},
{"genus":"Blautia","overlap":"CD, BMI>25, and Carrier overlap","log2fc":-3.97,"abundance":0.0007},
{"genus":"Blautia","overlap":"BMI>25 and Carrier overlap","log2fc":-4.98,"abundance":0.001},
{"genus":"Parabacteroides","overlap":"CD, BMI>25, and Carrier overlap","log2fc":-6.13,"abundance":0.0004},
{"genus":"Acidaminococcus","overlap":"Carrier only","log2fc":-3.56,"abundance":0.0004},
{"genus":"Faecalibacterium","overlap":"Carrier only","log2fc":-1.02,"abundance":0.0004},
{"genus":"Faecalibacterium","overlap":"CD and Carrier overlap","log2fc":-1.44,"abundance":0.018},
{"genus":"Faecalibacterium","overlap":"BMI>25 and Carrier overlap","log2fc":-1.32,"abundance":0.0002},
{"genus":"Faecalibacterium","overlap":"BMI>25 and Carrier overlap","log2fc":-1.62,"abundance":0.0002},
{"genus":"Faecalibacterium","overlap":"CD, BMI>25, and Carrier overlap","log2fc":-2.04,"abundance":0.0022},
{"genus":"Faecalibacterium","overlap":"CD, BMI>25, and Carrier overlap","log2fc":-2.55,"abundance":0.0007},
{"genus":"[Prevotella]","overlap":"Carrier only","log2fc":8.22,"abundance":0.0015},
{"genus":"Zoogloea","overlap":"Carrier only","log2fc":-3.67,"abundance":0.0003},
{"genus":"Sutterella","overlap":"Carrier only","log2fc":-4.27,"abundance":0.018},
{"genus":"Sutterella","overlap":"BMI>25 and Carrier overlap","log2fc":-4.3,"abundance":0.0002},
{"genus":"Coprococcus","overlap":"BMI>25 and Carrier overlap","log2fc":-1.08,"abundance":0.004},
{"genus":"Coprococcus","overlap":"CD, BMI>25, and Carrier overlap","log2fc":-1.78,"abundance":0.016},
{"genus":"Coprococcus","overlap":"Carrier only","log2fc":-2.28,"abundance":0.0004},
{"genus":"Coprococcus","overlap":"CD, BMI>25, and Carrier overlap","log2fc":-2.59,"abundance":0.0006},
{"genus":"Coprococcus","overlap":"CD, BMI>25, and Carrier overlap","log2fc":-4.34,"abundance":0.0006},
{"genus":"Coprococcus","overlap":"BMI>25 and Carrier overlap","log2fc":-5.45,"abundance":0.0003},
{"genus":"Enterobacter","overlap":"Carrier only","log2fc":-3.33,"abundance":0.0004},
{"genus":"Serratia","overlap":"Carrier only","log2fc":-1.67,"abundance":0.0004},
{"genus":"Collinsella","overlap":"Carrier only","log2fc":-2.04,"abundance":0.0022},
{"genus":"Lachnospira","overlap":"CD, BMI>25, and Carrier overlap","log2fc":-3.04,"abundance":0.0004},
{"genus":"Lachnospira","overlap":"CD, BMI>25, and Carrier overlap","log2fc":-3.41,"abundance":0.0004},
{"genus":"Lachnospira","overlap":"CD, BMI>25, and Carrier overlap","log2fc":-4.34,"abundance":0.014},
{"genus":"Roseburia","overlap":"BMI>25 and Carrier overlap","log2fc":-1.53,"abundance":0.0004},
{"genus":"Roseburia","overlap":"BMI>25 and Carrier overlap","log2fc":-2.22,"abundance":0.0003},
{"genus":"Roseburia","overlap":"CD, BMI>25, and Carrier overlap","log2fc":-2.44,"abundance":0.0006},
{"genus":"Roseburia","overlap":"BMI>25 and Carrier overlap","log2fc":-2.67,"abundance":0.0015},
{"genus":"Roseburia","overlap":"BMI>25 and Carrier overlap","log2fc":-2.9,"abundance":0.0003},
{"genus":"Roseburia","overlap":"CD, BMI>25, and Carrier overlap","log2fc":-3.19,"abundance":0.0004},
{"genus":"[Ruminococcus]","overlap":"Carrier only","log2fc":-1.38,"abundance":0.0006},
{"genus":"[Ruminococcus]","overlap":"CD and Carrier overlap","log2fc":-2.0,"abundance":0.03},
{"genus":"[Ruminococcus]","overlap":"CD and Carrier overlap","log2fc":-2.52,"abundance":0.025},
{"genus":"[Ruminococcus]","overlap":"Carrier only","log2fc":-2.15,"abundance":0.012},
{"genus":"[Ruminococcus]","overlap":"Carrier only","log2fc":-3.33,"abundance":0.0004},
{"genus":"SMB53","overlap":"Carrier only","log2fc":-1.97,"abundance":0.0012},
{"genus":"SMB53","overlap":"CD, BMI>25, and Carrier overlap","log2fc":-3.56,"abundance":0.0004},
{"genus":"Anaerostipes","overlap":"CD, BMI>25, and Carrier overlap","log2fc":-5.85,"abundance":0.0003},
{"genus":"Ruminococcus","overlap":"Carrier only","log2fc":2.4,"abundance":0.0006},
{"genus":"Ruminococcus","overlap":"CD, BMI>25, and Carrier overlap","log2fc":-2.21,"abundance":0.0006},
{"genus":"Ruminococcus","overlap":"CD, BMI>25, and Carrier overlap","log2fc":-3.56,"abundance":0.0004},
{"genus":"[Eubacterium]","overlap":"CD and Carrier overlap","log2fc":-3.66,"abundance":0.006},
{"genus":"[Eubacterium]","overlap":"CD and Carrier overlap","log2fc":-4.84,"abundance":0.0006},
{"genus":"[Eubacterium]","overlap":"CD and Carrier overlap","log2fc":-6.37,"abundance":0.0022}
],
"genusFC": [
{"genus":"Bacteroides","log2fc":0.27},{"genus":"Oscillospira","log2fc":0.27},{"genus":"Dorea","log2fc":0.13},{"genus":"Bilophila","log2fc":0.04},{"genus":"Parabacteroides","log2fc":-0.1},{"genus":"Acidaminococcus","log2fc":-0.52},{"genus":"Faecalibacterium","log2fc":-0.52},{"genus":"[Prevotella]","log2fc":-0.6},{"genus":"Zoogloea","log2fc":-0.63},{"genus":"Sutterella","log2fc":-0.93},{"genus":"Coprococcus","log2fc":-1.07},{"genus":"Enterobacter","log2fc":-1.1},{"genus":"Serratia","log2fc":-1.24},{"genus":"Collinsella","log2fc":-1.3},{"genus":"Lachnospira","log2fc":-1.42},{"genus":"Roseburia","log2fc":-1.5},{"genus":"SMB53","log2fc":-1.87},{"genus":"Anaerostipes","log2fc":-2.1},{"genus":"Ruminococcus","log2fc":-2.27},{"genus":"[Eubacterium]","log2fc":-4.5}
]
},
"vconcat": [
{"width": 940, "height": 438, "view": {"stroke": null},
 "resolve": {"scale": {"x": "independent", "y": "independent"}},
 "layer": [
  {"layer": [
    {"data": {"values": [{"label":"CD","lx":-6.5,"ly":9.65},{"label":"Non-CD","lx":-6.5,"ly":33.8}]},
     "mark": {"type":"text","align":"left","baseline":"middle","fontSize":15.5,"color":"#1a1a1a"},
     "encoding": {"x": {"field":"lx","type":"quantitative","scale":{"domain":[0,0.6],"range":[0,6],"nice":false,"zero":false},"axis":null},
                  "y": {"field":"ly","type":"quantitative","scale":{"domain":[0,43.8],"range":[0,438],"nice":false,"zero":false},"axis":null},
                  "text": {"field":"label"}}},
    {"data": {"values": [{"group":"Carrier","lx":-6.4,"ly":20.1},{"group":"Non-carrier","lx":-6.4,"ly":24.0}]},
     "mark": {"type":"text","align":"left","baseline":"middle","fontSize":15.5},
     "encoding": {"x": {"field":"lx","type":"quantitative"},
                  "y": {"field":"ly","type":"quantitative"},
                  "text": {"field":"group"},
                  "color": {"field":"group","type":"nominal","scale":{"domain":["Carrier","Non-carrier"],"range":["#e5231f","#34338c"]},"legend":null}}},
    {"data": {"values": [{"t":"A"}]},
     "mark": {"type":"text","align":"left","baseline":"alphabetic","fontSize":26,"fontWeight":"bold","color":"#111111"},
     "encoding": {"x": {"datum": -6.4}, "y": {"datum": -1.7}, "text": {"field":"t"}}}
  ]},
  {"layer": [
    {"data": {"values": [{}]}, "mark": {"type":"rect","fill":"#ffffff","fillOpacity":0,"stroke":"#8a8a8a","strokeWidth":1.5},
     "encoding": {"x": {"datum": 27.5, "type":"quantitative","scale":{"domain":[27.5,95.3],"range":[26,252],"nice":false,"zero":false},"axis":null}, "x2": {"datum": 95.3},
                  "y": {"datum": -72.5, "type":"quantitative","scale":{"domain":[-72.5,-12.2],"range":[201,0],"nice":false,"zero":false},"axis":null}, "y2": {"datum": -12.2}}},
    {"data": {"name":"tl"}, "mark": {"type":"circle","size":18,"opacity":1},
     "encoding": {"x": {"field":"pc1","type":"quantitative"}, "y": {"field":"pc2","type":"quantitative"},
                  "color": {"field":"group","type":"nominal","legend":null}}},
    {"data": {"values": [{"group":"Carrier","n":"24","tx":29.6},{"group":"Non-carrier","n":"71","tx":37.7}]},
     "mark": {"type":"text","align":"left","baseline":"alphabetic","fontSize":13.5},
     "encoding": {"x": {"field":"tx","type":"quantitative"}, "y": {"datum": -17.0}, "text": {"field":"n"}, "color": {"field":"group","type":"nominal","legend":null}}},
    {"data": {"values": [{}]}, "mark": {"type":"text","text":"/","align":"left","baseline":"alphabetic","fontSize":13.5,"color":"#333333"},
     "encoding": {"x": {"datum": 35.3}, "y": {"datum": -17.0}}},
    {"data": {"values": [{}]}, "mark": {"type":"text","text":"p=0.0009","align":"right","baseline":"alphabetic","fontSize":13.5,"color":"#111111"},
     "encoding": {"x": {"datum": 92.9}, "y": {"datum": -16.9}}},
    {"data": {"values": [{}]}, "mark": {"type":"text","text":"BMI<25","align":"center","baseline":"alphabetic","fontSize":15,"color":"#111111"},
     "encoding": {"x": {"datum": 61.4}, "y": {"datum": -5.9}}},
    {"data": {"values": [{}]}, "mark": {"type":"text","text":"PC1 (15%)","align":"center","baseline":"alphabetic","fontSize":14,"color":"#1a1a1a"},
     "encoding": {"x": {"datum": 61.4}, "y": {"datum": -77.9}}},
    {"data": {"values": [{}]}, "mark": {"type":"text","text":"PC2 (13%)","angle":270,"align":"center","baseline":"alphabetic","fontSize":14,"color":"#1a1a1a"},
     "encoding": {"x": {"datum": 25.4}, "y": {"datum": -42.35}}}
  ]},
  {"layer": [
    {"data": {"values": [{}]}, "mark": {"type":"rect","fill":"#ffffff","fillOpacity":0,"stroke":"#8a8a8a","strokeWidth":1.5},
     "encoding": {"x": {"datum": 9.3, "type":"quantitative","scale":{"domain":[9.3,77.1],"range":[295,521],"nice":false,"zero":false},"axis":null}, "x2": {"datum": 77.1},
                  "y": {"datum": -72.5, "type":"quantitative","scale":{"domain":[-72.5,-12.2],"range":[201,0],"nice":false,"zero":false},"axis":null}, "y2": {"datum": -12.2}}},
    {"data": {"name":"tr"}, "mark": {"type":"circle","size":18,"opacity":1},
     "encoding": {"x": {"field":"pc1","type":"quantitative"}, "y": {"field":"pc2","type":"quantitative"},
                  "color": {"field":"group","type":"nominal","legend":null}}},
    {"data": {"values": [{"group":"Carrier","n":"8","tx":12.6},{"group":"Non-carrier","n":"44","tx":18.3}]},
     "mark": {"type":"text","align":"left","baseline":"alphabetic","fontSize":13.5},
     "encoding": {"x": {"field":"tx","type":"quantitative"}, "y": {"datum": -17.5}, "text": {"field":"n"}, "color": {"field":"group","type":"nominal","legend":null}}},
    {"data": {"values": [{}]}, "mark": {"type":"text","text":"/","align":"left","baseline":"alphabetic","fontSize":13.5,"color":"#333333"},
     "encoding": {"x": {"datum": 16.0}, "y": {"datum": -17.5}}},
    {"data": {"values": [{}]}, "mark": {"type":"text","text":"p=0.22","align":"right","baseline":"alphabetic","fontSize":13.5,"color":"#111111"},
     "encoding": {"x": {"datum": 74.7}, "y": {"datum": -19.8}}},
    {"data": {"values": [{}]}, "mark": {"type":"text","text":"BMI>25","align":"center","baseline":"alphabetic","fontSize":15,"color":"#111111"},
     "encoding": {"x": {"datum": 43.2}, "y": {"datum": -5.9}}},
    {"data": {"values": [{}]}, "mark": {"type":"text","text":"PC1 (17%)","align":"center","baseline":"alphabetic","fontSize":14,"color":"#1a1a1a"},
     "encoding": {"x": {"datum": 43.2}, "y": {"datum": -77.9}}},
    {"data": {"values": [{}]}, "mark": {"type":"text","text":"PC2 (12%)","angle":270,"align":"center","baseline":"alphabetic","fontSize":14,"color":"#1a1a1a"},
     "encoding": {"x": {"datum": 7.2}, "y": {"datum": -42.35}}}
  ]},
  {"layer": [
    {"data": {"values": [{}]}, "mark": {"type":"rect","fill":"#ffffff","fillOpacity":0,"stroke":"#8a8a8a","strokeWidth":1.5},
     "encoding": {"x": {"datum": 27.5, "type":"quantitative","scale":{"domain":[27.5,95.3],"range":[26,252],"nice":false,"zero":false},"axis":null}, "x2": {"datum": 95.3},
                  "y": {"datum": -57.0, "type":"quantitative","scale":{"domain":[-57.0,3.3],"range":[438,237],"nice":false,"zero":false},"axis":null}, "y2": {"datum": 3.3}}},
    {"data": {"name":"bl"}, "mark": {"type":"circle","size":18,"opacity":1},
     "encoding": {"x": {"field":"pc1","type":"quantitative"}, "y": {"field":"pc2","type":"quantitative"},
                  "color": {"field":"group","type":"nominal","legend":null}}},
    {"data": {"values": [{"group":"Carrier","n":"19","tx":29.6},{"group":"Non-carrier","n":"61","tx":37.7}]},
     "mark": {"type":"text","align":"left","baseline":"alphabetic","fontSize":13.5},
     "encoding": {"x": {"field":"tx","type":"quantitative"}, "y": {"datum": -2.55}, "text": {"field":"n"}, "color": {"field":"group","type":"nominal","legend":null}}},
    {"data": {"values": [{}]}, "mark": {"type":"text","text":"/","align":"left","baseline":"alphabetic","fontSize":13.5,"color":"#333333"},
     "encoding": {"x": {"datum": 35.3}, "y": {"datum": -2.55}}},
    {"data": {"values": [{}]}, "mark": {"type":"text","text":"p=0.009","align":"right","baseline":"alphabetic","fontSize":13.5,"color":"#111111"},
     "encoding": {"x": {"datum": 93.2}, "y": {"datum": -2.55}}},
    {"data": {"values": [{}]}, "mark": {"type":"text","text":"PC1 (11%)","align":"center","baseline":"alphabetic","fontSize":14,"color":"#1a1a1a"},
     "encoding": {"x": {"datum": 61.4}, "y": {"datum": -62.4}}},
    {"data": {"values": [{}]}, "mark": {"type":"text","text":"PC2 (9%)","angle":270,"align":"center","baseline":"alphabetic","fontSize":14,"color":"#1a1a1a"},
     "encoding": {"x": {"datum": 25.4}, "y": {"datum": -26.85}}}
  ]},
  {"layer": [
    {"data": {"values": [{}]}, "mark": {"type":"rect","fill":"#ffffff","fillOpacity":0,"stroke":"#8a8a8a","strokeWidth":1.5},
     "encoding": {"x": {"datum": 9.3, "type":"quantitative","scale":{"domain":[9.3,77.1],"range":[295,521],"nice":false,"zero":false},"axis":null}, "x2": {"datum": 77.1},
                  "y": {"datum": -56.7, "type":"quantitative","scale":{"domain":[-56.7,3.6],"range":[438,237],"nice":false,"zero":false},"axis":null}, "y2": {"datum": 3.6}}},
    {"data": {"name":"br"}, "mark": {"type":"circle","size":18,"opacity":1},
     "encoding": {"x": {"field":"pc1","type":"quantitative"}, "y": {"field":"pc2","type":"quantitative"},
                  "color": {"field":"group","type":"nominal","legend":null}}},
    {"data": {"values": [{"group":"Carrier","n":"23","tx":12.3},{"group":"Non-carrier","n":"90","tx":20.2}]},
     "mark": {"type":"text","align":"left","baseline":"alphabetic","fontSize":13.5},
     "encoding": {"x": {"field":"tx","type":"quantitative"}, "y": {"datum": -1.95}, "text": {"field":"n"}, "color": {"field":"group","type":"nominal","legend":null}}},
    {"data": {"values": [{}]}, "mark": {"type":"text","text":"/","align":"left","baseline":"alphabetic","fontSize":13.5,"color":"#333333"},
     "encoding": {"x": {"datum": 17.9}, "y": {"datum": -1.95}}},
    {"data": {"values": [{}]}, "mark": {"type":"text","text":"p=0.07","align":"right","baseline":"alphabetic","fontSize":13.5,"color":"#111111"},
     "encoding": {"x": {"datum": 74.7}, "y": {"datum": -1.5}}},
    {"data": {"values": [{}]}, "mark": {"type":"text","text":"PC1 (14%)","align":"center","baseline":"alphabetic","fontSize":14,"color":"#1a1a1a"},
     "encoding": {"x": {"datum": 43.2}, "y": {"datum": -61.8}}},
    {"data": {"values": [{}]}, "mark": {"type":"text","text":"PC2 (10%)","angle":270,"align":"center","baseline":"alphabetic","fontSize":14,"color":"#1a1a1a"},
     "encoding": {"x": {"datum": 7.2}, "y": {"datum": -26.55}}}
  ]},
  {"layer": [
    {"data": {"name":"vennSets"}, "transform": [{"filter": "datum.set !== 'Carrier'"}],
     "mark": {"type":"point","shape":"circle","size":10000,"filled":true,"fill":"#ffffff","stroke":"#1a1a1a","strokeWidth":1.6,"opacity":1},
     "encoding": {"x": {"field":"vx","type":"quantitative","scale":{"domain":[0,37.6],"range":[564,940],"nice":false,"zero":false},"axis":null},
                  "y": {"field":"vy","type":"quantitative","scale":{"domain":[0,43.8],"range":[0,438],"nice":false,"zero":false},"axis":null}}},
    {"data": {"name":"vennSets"}, "transform": [{"filter": "datum.set === 'Carrier'"}],
     "mark": {"type":"point","shape":"circle","size":10000,"filled":true,"fill":"#7aa535","stroke":"#1a1a1a","strokeWidth":1.6,"opacity":1},
     "encoding": {"x": {"field":"vx","type":"quantitative"}, "y": {"field":"vy","type":"quantitative"}}},
    {"data": {"name":"vennSets"}, "transform": [{"filter": "datum.set === 'Carrier'"}],
     "mark": {"type":"point","shape":"M -0.9787 0.2056 A 1 1 0 0 0 -0.2987 0.9544 A 1 1 0 0 1 0 0.4268 A 1 1 0 0 0 -0.9787 0.2056 Z","size":10000,"filled":true,"fill":"#3db5ae","stroke":"#1a1a1a","strokeWidth":1.6,"opacity":1},
     "encoding": {"x": {"field":"vx","type":"quantitative"}, "y": {"field":"vy","type":"quantitative"}}},
    {"data": {"name":"vennSets"}, "transform": [{"filter": "datum.set === 'Carrier'"}],
     "mark": {"type":"point","shape":"M 0.9787 0.2056 A 1 1 0 0 1 0.2987 0.9544 A 1 1 0 0 0 0 0.4268 A 1 1 0 0 1 0.9787 0.2056 Z","size":10000,"filled":true,"fill":"#ef7065","stroke":"#1a1a1a","strokeWidth":1.6,"opacity":1},
     "encoding": {"x": {"field":"vx","type":"quantitative"}, "y": {"field":"vy","type":"quantitative"}}},
    {"data": {"name":"vennSets"}, "transform": [{"filter": "datum.set === 'Carrier'"}],
     "mark": {"type":"point","shape":"M 0 0.4268 A 1 1 0 0 0 -0.2987 0.9544 A 1 1 0 0 0 0.2987 0.9544 A 1 1 0 0 0 0 0.4268 Z","size":10000,"filled":true,"fill":"#a874b6","stroke":"#1a1a1a","strokeWidth":1.6,"opacity":1},
     "encoding": {"x": {"field":"vx","type":"quantitative"}, "y": {"field":"vy","type":"quantitative"}}},
    {"data": {"name":"vennCounts"},
     "mark": {"type":"text","fontSize":14.5,"baseline":"middle","align":"center","color":"#1a1a1a"},
     "encoding": {"x": {"field":"vx","type":"quantitative"}, "y": {"field":"vy","type":"quantitative"}, "text": {"field":"count","type":"nominal"}}},
    {"data": {"name":"vennLabels"},
     "mark": {"type":"text","fontSize":15.5,"baseline":"middle","align":"center","color":"#1a1a1a"},
     "encoding": {"x": {"field":"vx","type":"quantitative"}, "y": {"field":"vy","type":"quantitative"}, "text": {"field":"text","type":"nominal"}}},
    {"data": {"values": [{"t":"B"}]},
     "mark": {"type":"text","align":"left","baseline":"alphabetic","fontSize":26,"fontWeight":"bold","color":"#111111"},
     "encoding": {"x": {"datum": 0.5}, "y": {"datum": -1.7}, "text": {"field":"t"}}}
  ]}
 ]},
{"bounds": "flush", "spacing": 8, "hconcat": [
  {"width": 632, "height": 361,
   "resolve": {"scale": {"x": "independent"}},
   "layer": [
    {"data": {"values": [{}]}, "mark": {"type":"rule","color":"#2b2b2b","strokeWidth":1.5},
     "encoding": {"y": {"datum": 0, "type":"quantitative","scale":{"domain":[-7.1,9],"nice":false,"zero":false}}}},
    {"data": {"name":"genusFC"},
     "mark": {"type":"point","shape":"M -1 0 L 1 0","size":361,"filled":false,"color":"#8c8c8c","strokeWidth":1,"strokeDash":[2,1.2],"opacity":1},
     "encoding": {"x": {"field":"genus","type":"nominal","scale":{"type":"point","padding":0.6,"domain":["Bacteroides","Oscillospira","Dorea","Bilophila","Blautia","Parabacteroides","Acidaminococcus","Faecalibacterium","[Prevotella]","Zoogloea","Sutterella","Coprococcus","Enterobacter","Serratia","Collinsella","Lachnospira","Roseburia","[Ruminococcus]","SMB53","Anaerostipes","Ruminococcus","[Eubacterium]"]},"axis":null},
                  "y": {"field":"log2fc","type":"quantitative","scale":{"domain":[-7.1,9],"nice":false,"zero":false}}}},
    {"data": {"values": [
       {"species":"B. eggerthii","gx":0,"fc":3.78},
       {"species":"F. prausnitzii","gx":7,"fc":-1.82},
       {"species":"R. gnavus","gx":17,"fc":-2.49},
       {"species":"E. biforme","gx":21,"fc":-4.76}]},
     "mark": {"type":"point","filled":false,"size":10000,"stroke":"#555555","strokeWidth":0.9,"opacity":1},
     "encoding": {"x": {"field":"gx","type":"quantitative","scale":{"domain":[-0.6,21.6],"nice":false,"zero":false},"axis":null},
                  "y": {"field":"fc","type":"quantitative","scale":{"domain":[-7.1,9],"nice":false,"zero":false}},
                  "shape": {"field":"species","type":"nominal","scale":{"domain":["B. eggerthii","F. prausnitzii","R. gnavus","E. biforme"],"range":["M -0.28 0 A 0.28 0.4 0 1 0 0.28 0 A 0.28 0.4 0 1 0 -0.28 0 Z","M -0.28 0 A 0.28 0.51 0 1 0 0.28 0 A 0.28 0.51 0 1 0 -0.28 0 Z","M -0.29 0 A 0.29 0.42 0 1 0 0.29 0 A 0.29 0.42 0 1 0 -0.29 0 Z","M -0.28 0 A 0.28 0.91 0 1 0 0.28 0 A 0.28 0.91 0 1 0 -0.28 0 Z"]},"legend":null}}},
    {"data": {"values": [
       {"species":"B. eggerthii","gx":0.84,"fc":6.93,"gx2":0.0,"fc2":4.62},
       {"species":"B. fragilis","gx":0.067,"fc":-1.47,"gx2":1.28,"fc2":-4.35},
       {"species":"F. prausnitzii","gx":7.0,"fc":2.36,"gx2":7.0,"fc2":-0.71},
       {"species":"C. aerofaciens","gx":12.29,"fc":3.42,"gx2":14.0,"fc2":-2.0},
       {"species":"R. gnavus","gx":15.77,"fc":1.38,"gx2":17.0,"fc2":-2.0},
       {"species":"E. biforme","gx":20.79,"fc":3.78,"gx2":20.93,"fc2":-2.76}]},
     "mark": {"type":"rule","color":"#555555","strokeWidth":0.9},
     "encoding": {"x": {"field":"gx","type":"quantitative","scale":{"domain":[-0.6,21.6],"nice":false,"zero":false},"axis":null},
                  "x2": {"field":"gx2"},
                  "y": {"field":"fc","type":"quantitative","scale":{"domain":[-7.1,9],"nice":false,"zero":false}},
                  "y2": {"field":"fc2"}}},
    {"data": {"name":"otus"},
     "mark": {"type":"circle","opacity":1},
     "encoding": {"x": {"field":"genus","type":"nominal","scale":{"type":"point","padding":0.6,"domain":["Bacteroides","Oscillospira","Dorea","Bilophila","Blautia","Parabacteroides","Acidaminococcus","Faecalibacterium","[Prevotella]","Zoogloea","Sutterella","Coprococcus","Enterobacter","Serratia","Collinsella","Lachnospira","Roseburia","[Ruminococcus]","SMB53","Anaerostipes","Ruminococcus","[Eubacterium]"]},
                        "axis":{"orient":"bottom","title":"Genus","labelAngle":90,"labelFontSize":13.5,"tickSize":7,"tickWidth":1.5,"tickColor":"#222222","labelPadding":9,"titleFontSize":16,"titlePadding":3}},
                  "y": {"field":"log2fc","type":"quantitative","scale":{"domain":[-7.1,9],"nice":false,"zero":false},
                        "axis":{"values":[-4,0,4,8],"title":"Log2 FC Carrier vs. Non-carrier","titleFontSize":16,"labelFontSize":14,"tickSize":10,"tickWidth":1.5,"tickColor":"#222222","labelPadding":3,"titlePadding":7}},
                  "color": {"field":"overlap","type":"nominal","scale":{"domain":["Carrier only","CD and Carrier overlap","BMI>25 and Carrier overlap","CD, BMI>25, and Carrier overlap"],"range":["#78a737","#f0766b","#41b6b1","#aa7abd"]},"legend":null},
                  "size": {"field":"abundance","type":"quantitative","scale":{"domain":[0,0.03],"range":[0,484],"zero":true},"legend":null},
                  "order": {"field":"abundance","sort":"descending"}}},
    {"data": {"values": [
       {"label":"B. eggerthii","gx":2.07,"fc":7.1},
       {"label":"B. fragilis","gx":1.23,"fc":-4.98},
       {"label":"F. prausnitzii","gx":6.85,"fc":2.62},
       {"label":"C. aerofaciens","gx":12.26,"fc":3.6},
       {"label":"R. gnavus","gx":15.7,"fc":1.56},
       {"label":"E. biforme","gx":19.74,"fc":4.0}]},
     "mark": {"type":"text","fontSize":14.5,"fontStyle":"italic","align":"center","baseline":"alphabetic","color":"#1a1a1a"},
     "encoding": {"x": {"field":"gx","type":"quantitative","scale":{"domain":[-0.6,21.6],"nice":false,"zero":false},"axis":null},
                  "y": {"field":"fc","type":"quantitative","scale":{"domain":[-7.1,9],"nice":false,"zero":false}},
                  "text": {"field":"label"}}},
    {"data": {"values": [{"t":"C"}]},
     "mark": {"type":"text","align":"left","baseline":"alphabetic","fontSize":26,"fontWeight":"bold","color":"#111111"},
     "encoding": {"x": {"datum": -2.92, "scale":{"domain":[-0.6,21.6],"nice":false,"zero":false},"axis":null}, "y": {"datum": 9.02}, "text": {"field":"t"}}}
   ]},
  {"width": 300, "height": 361, "view": {"stroke": null},
   "layer": [
    {"data": {"values": [{"overlap":"Carrier only","ly":4.3},{"overlap":"CD and Carrier overlap","ly":7.4},{"overlap":"BMI>25 and Carrier overlap","ly":10.5},{"overlap":"CD, BMI>25, and Carrier overlap","ly":13.55}]},
     "mark": {"type":"circle","size":225,"opacity":1},
     "encoding": {"x": {"datum": 2.23, "scale":{"domain":[0,30],"nice":false,"zero":false},"axis":null},
                  "y": {"field":"ly","type":"quantitative","scale":{"domain":[0,36.1],"nice":false,"zero":false,"reverse":true},"axis":null},
                  "color": {"field":"overlap","type":"nominal","scale":{"domain":["Carrier only","CD and Carrier overlap","BMI>25 and Carrier overlap","CD, BMI>25, and Carrier overlap"],"range":["#78a737","#f0766b","#41b6b1","#aa7abd"]},"legend":null}}},
    {"data": {"values": [{"overlap":"Carrier only","ly":4.3},{"overlap":"CD and Carrier overlap","ly":7.4},{"overlap":"BMI>25 and Carrier overlap","ly":10.5},{"overlap":"CD, BMI>25, and Carrier overlap","ly":13.55}]},
     "mark": {"type":"text","align":"left","baseline":"middle","fontSize":15.5,"color":"#1a1a1a"},
     "encoding": {"x": {"datum": 4.23}, "y": {"field":"ly","type":"quantitative"}, "text": {"field":"overlap"}}},
    {"data": {"values": [{"item":"Log2 FC for entire genus","ly":20.2}]},
     "mark": {"type":"point","shape":"M -1 0 L 1 0","size":400,"filled":false,"color":"#8c8c8c","strokeWidth":1,"strokeDash":[2,1.2],"opacity":1},
     "encoding": {"x": {"datum": 2.4}, "y": {"field":"ly","type":"quantitative"}}},
    {"data": {"values": [{"item":"Log2 FC for entire genus","ly":20.2}]},
     "mark": {"type":"text","align":"left","baseline":"middle","fontSize":15.5,"color":"#1a1a1a"},
     "encoding": {"x": {"datum": 4.33}, "y": {"field":"ly","type":"quantitative"}, "text": {"field":"item"}}},
    {"data": {"values": [{"t":"OTU abundance"}]},
     "mark": {"type":"text","align":"center","baseline":"middle","fontSize":15.5,"color":"#1a1a1a"},
     "encoding": {"x": {"datum": 11.73}, "y": {"datum": 26.87}, "text": {"field":"t"}}},
    {"data": {"values": [{"abundance":0.0001,"lx":7.07},{"abundance":0.0003,"lx":8.4},{"abundance":0.001,"lx":9.8},{"abundance":0.003,"lx":11.33},{"abundance":0.01,"lx":13.13},{"abundance":0.03,"lx":15.67}]},
     "mark": {"type":"circle","color":"#111111","opacity":1},
     "encoding": {"x": {"field":"lx","type":"quantitative"}, "y": {"datum": 30.13},
                  "size": {"field":"abundance","type":"quantitative","scale":{"domain":[0,0.03],"range":[0,484],"zero":true},"legend":null}}},
    {"data": {"values": [{"t":"10"}]},
     "mark": {"type":"text","align":"right","baseline":"middle","fontSize":15,"color":"#1a1a1a"},
     "encoding": {"x": {"datum": 5.3}, "y": {"datum": 30.3}, "text": {"field":"t"}}},
    {"data": {"values": [{"t":"−4"}]},
     "mark": {"type":"text","align":"left","baseline":"middle","fontSize":10,"color":"#1a1a1a"},
     "encoding": {"x": {"datum": 5.35}, "y": {"datum": 29.45}, "text": {"field":"t"}}},
    {"data": {"values": [{"t":"0.03"}]},
     "mark": {"type":"text","align":"left","baseline":"middle","fontSize":15,"color":"#1a1a1a"},
     "encoding": {"x": {"datum": 17.57}, "y": {"datum": 30.2}, "text": {"field":"t"}}},
    {"data": {"values": [{"t":"0.003"}]},
     "mark": {"type":"text","align":"center","baseline":"middle","fontSize":15,"color":"#1a1a1a"},
     "encoding": {"x": {"datum": 11.15}, "y": {"datum": 32.03}, "text": {"field":"t"}}}
   ]}
]}
]
}
